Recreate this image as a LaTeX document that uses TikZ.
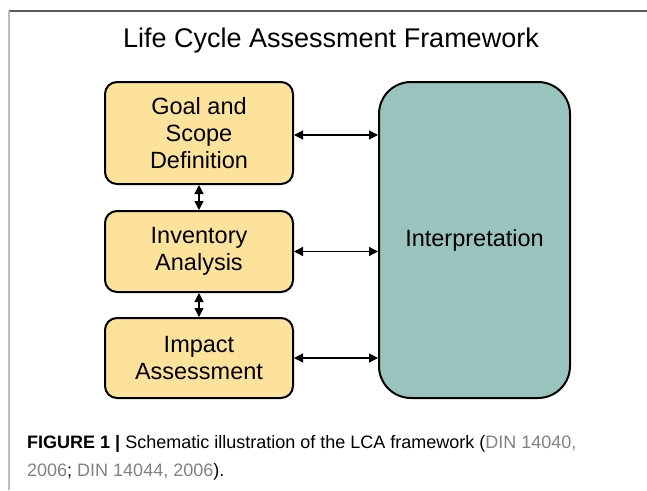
\documentclass[tikz,border=0pt]{standalone}
\usepackage{fontspec}
\setmainfont{Liberation Sans}
\newfontfamily\capfont{Liberation Sans}
\usetikzlibrary{arrows.meta,calc}
\definecolor{boxyellow}{RGB}{252,226,154}
\definecolor{boxteal}{RGB}{153,196,190}
\definecolor{citegray}{RGB}{130,130,130}
\tikzset{
  stagebox/.style={draw=black, line width=2pt, fill=boxyellow, rounded corners=12pt,
    minimum width=188pt, align=center, font=\fontsize{23.5}{27}\selectfont, inner sep=0pt},
  interpbox/.style={draw=black, line width=2pt, fill=boxteal, rounded corners=32pt,
    minimum width=191pt, minimum height=316pt, font=\fontsize{23.5}{27}\selectfont},
  link/.style={line width=1.3pt, {Triangle[length=9pt,width=9pt]}-{Triangle[length=9pt,width=9pt]}},
  captext/.style={anchor=base west, inner sep=0pt, font=\capfont\fontsize{18}{28}\selectfont}
}
\begin{document}
\begin{tikzpicture}[x=1pt,y=-1pt]
\useasboundingbox (0,0) rectangle (647,490);
\fill[white] (0,0) rectangle (647,490);
\draw[color={rgb,255:red,90;green,90;blue,90}, line width=1.5pt] (9,11) -- (647,11);
\draw[color={rgb,255:red,190;green,190;blue,190}, line width=2pt] (9,11) -- (9,490);
\node[font=\fontsize{27}{30}\selectfont] (title) at (331,41) {Life Cycle Assessment Framework};
\node[stagebox, minimum height=102pt] (goal) at (199,133) {Goal and\\Scope\\Definition};
\node[stagebox, minimum height=81pt] (inv) at (199,251.5) {Inventory\\Analysis};
\node[stagebox, minimum height=80pt] (imp) at (199,358) {Impact\\Assessment};
\node[interpbox] (interp) at (474.5,240) {Interpretation};
\draw[link] ([yshift=-2pt]goal.east) -- ([yshift=-2pt]goal.east -| interp.west);
\draw[link] (inv.east) -- (inv.east -| interp.west);
\draw[link] (imp.east) -- (imp.east -| interp.west);
\draw[link] (goal.south) -- (inv.north);
\draw[link] (inv.south) -- (imp.north);
\node[captext] (cap1) at (27,448)
 {{\bfseries FIGURE 1 |} Schematic illustration of the LCA framework ({\color{citegray}DIN 14040,}};
\node[captext] (cap2) at (27,476)
 {{\color{citegray}2006}; {\color{citegray}DIN 14044, 2006}).};
\end{tikzpicture}
\end{document}
